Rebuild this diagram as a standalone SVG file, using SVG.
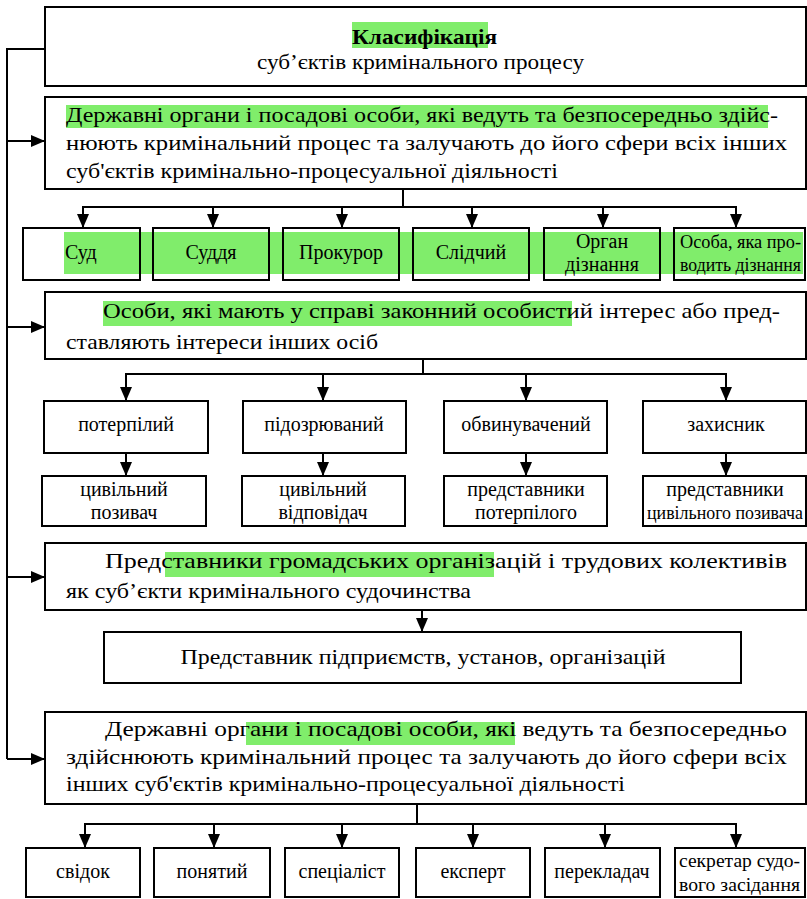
<svg xmlns="http://www.w3.org/2000/svg" width="807" height="899" viewBox="0 0 807 899">
<style>
.box{fill:none;stroke:#000;stroke-width:2}
.t{fill:#000;font-size:22px}
.s{font-size:20px}
.xs{font-size:18px}
.m{text-anchor:middle}
.b{font-weight:bold}
.hl{fill:#80ED6B}
.c{fill:none;stroke:#000;stroke-width:2}
</style>
<defs>
<marker id="ah" viewBox="0 0 14 12" refX="14" refY="6" markerWidth="14" markerHeight="12" markerUnits="userSpaceOnUse" orient="auto"><path d="M0,0 L14,6 L0,12 z" fill="#000"/></marker>
</defs>
<rect width="807" height="899" fill="#fff"/>
<g id="highlights">
<rect class="hl" x="352" y="22" width="136" height="26"/>
<rect class="hl" x="66" y="105" width="702" height="23"/>
<rect class="hl" x="64" y="232" width="739" height="42"/>
<rect class="hl" x="103" y="301" width="469" height="25"/>
<rect class="hl" x="165" y="552" width="329" height="25"/>
<rect class="hl" x="246" y="722" width="269" height="23"/>
</g>
<g id="connectors">
<polyline class="c" points="45,49 7,49 7,759"/>
<line class="c" x1="7" y1="141" x2="45" y2="141" marker-end="url(#ah)"/>
<line class="c" x1="7" y1="327" x2="45" y2="327" marker-end="url(#ah)"/>
<line class="c" x1="7" y1="577" x2="45" y2="577" marker-end="url(#ah)"/>
<line class="c" x1="7" y1="759" x2="45" y2="759" marker-end="url(#ah)"/>
<line class="c" x1="403" y1="189" x2="403" y2="207"/>
<line class="c" x1="82" y1="207" x2="737" y2="207"/>
<line class="c" x1="83" y1="207" x2="83" y2="228" marker-end="url(#ah)"/>
<line class="c" x1="213" y1="207" x2="213" y2="228" marker-end="url(#ah)"/>
<line class="c" x1="342" y1="207" x2="342" y2="228" marker-end="url(#ah)"/>
<line class="c" x1="472" y1="207" x2="472" y2="228" marker-end="url(#ah)"/>
<line class="c" x1="603" y1="207" x2="603" y2="228" marker-end="url(#ah)"/>
<line class="c" x1="736" y1="207" x2="736" y2="228" marker-end="url(#ah)"/>
<line class="c" x1="423" y1="359" x2="423" y2="374"/>
<line class="c" x1="125" y1="374" x2="727" y2="374"/>
<line class="c" x1="126" y1="374" x2="126" y2="401" marker-end="url(#ah)"/>
<line class="c" x1="323" y1="374" x2="323" y2="401" marker-end="url(#ah)"/>
<line class="c" x1="526" y1="374" x2="526" y2="401" marker-end="url(#ah)"/>
<line class="c" x1="726" y1="374" x2="726" y2="401" marker-end="url(#ah)"/>
<line class="c" x1="126" y1="453" x2="126" y2="476" marker-end="url(#ah)"/>
<line class="c" x1="323" y1="453" x2="323" y2="476" marker-end="url(#ah)"/>
<line class="c" x1="526" y1="453" x2="526" y2="476" marker-end="url(#ah)"/>
<line class="c" x1="726" y1="453" x2="726" y2="476" marker-end="url(#ah)"/>
<line class="c" x1="422" y1="610" x2="422" y2="632" marker-end="url(#ah)"/>
<line class="c" x1="417" y1="804" x2="417" y2="824"/>
<line class="c" x1="84" y1="824" x2="737" y2="824"/>
<line class="c" x1="85" y1="824" x2="85" y2="848" marker-end="url(#ah)"/>
<line class="c" x1="214" y1="824" x2="214" y2="848" marker-end="url(#ah)"/>
<line class="c" x1="342" y1="824" x2="342" y2="848" marker-end="url(#ah)"/>
<line class="c" x1="473" y1="824" x2="473" y2="848" marker-end="url(#ah)"/>
<line class="c" x1="605" y1="824" x2="605" y2="848" marker-end="url(#ah)"/>
<line class="c" x1="736" y1="824" x2="736" y2="848" marker-end="url(#ah)"/>
</g>
<g id="title">
<rect class="box" x="45" y="7" width="761" height="79"/>
<text font-family="Liberation Serif, serif" class="t b" x="352" y="44" textLength="145" lengthAdjust="spacingAndGlyphs">Класифікація</text>
<text font-family="Liberation Serif, serif" class="t" x="257" y="69" textLength="327" lengthAdjust="spacingAndGlyphs">суб’єктів кримінального процесу</text>
</g>
<g id="state-organs">
<rect class="box" x="45" y="97" width="761" height="92"/>
<text font-family="Liberation Serif, serif" class="t" x="66" y="122" textLength="712" lengthAdjust="spacingAndGlyphs">Державні органи і посадові особи, які ведуть та безпосередньо здійс-</text>
<text font-family="Liberation Serif, serif" class="t" x="66" y="150" textLength="721" lengthAdjust="spacingAndGlyphs">нюють кримінальний процес та залучають до його сфери всіх інших</text>
<text font-family="Liberation Serif, serif" class="t" x="66" y="178" textLength="492" lengthAdjust="spacingAndGlyphs">суб'єктів кримінально-процесуальної діяльності</text>
</g>
<g id="sud"><rect class="box" x="23" y="228" width="117" height="52"/><text font-family="Liberation Serif, serif" class="t s" x="65" y="259">Суд</text></g>
<g id="suddia"><rect class="box" x="153" y="228" width="116" height="52"/><text font-family="Liberation Serif, serif" class="t s m" x="211" y="259">Суддя</text></g>
<g id="prokuror"><rect class="box" x="283" y="228" width="116" height="52"/><text font-family="Liberation Serif, serif" class="t s m" x="341" y="259">Прокурор</text></g>
<g id="slidchyi"><rect class="box" x="413" y="228" width="116" height="52"/><text font-family="Liberation Serif, serif" class="t s m" x="471" y="259">Слідчий</text></g>
<g id="organ-diznannia"><rect class="box" x="544" y="228" width="116" height="52"/><text font-family="Liberation Serif, serif" class="t s m" x="602" y="248">Орган</text><text font-family="Liberation Serif, serif" class="t s m" x="602" y="271">дізнання</text></g>
<g id="osoba-diznannia"><rect class="box" x="674" y="228" width="131" height="52"/><text font-family="Liberation Serif, serif" class="t xs" x="680" y="248" textLength="121" lengthAdjust="spacingAndGlyphs">Особа, яка про-</text><text font-family="Liberation Serif, serif" class="t xs" x="680" y="271" textLength="121" lengthAdjust="spacingAndGlyphs">водить дізнання</text></g>
<g id="interested-persons">
<rect class="box" x="45" y="292" width="761" height="67"/>
<text font-family="Liberation Serif, serif" class="t" x="103" y="318" textLength="677" lengthAdjust="spacingAndGlyphs">Особи, які мають у справі законний особистий інтерес або пред-</text>
<text font-family="Liberation Serif, serif" class="t" x="66" y="349" textLength="312" lengthAdjust="spacingAndGlyphs">ставляють інтереси інших осіб</text>
</g>
<g id="poterpilyi"><rect class="box" x="44" y="401" width="164" height="52"/><text font-family="Liberation Serif, serif" class="t s m" x="126" y="431">потерпілий</text></g>
<g id="pidozriuvanyi"><rect class="box" x="243" y="401" width="163" height="52"/><text font-family="Liberation Serif, serif" class="t s m" x="324" y="431">підозрюваний</text></g>
<g id="obvynuvachenyi"><rect class="box" x="444" y="401" width="163" height="52"/><text font-family="Liberation Serif, serif" class="t s m" x="526" y="431">обвинувачений</text></g>
<g id="zakhysnyk"><rect class="box" x="643" y="401" width="163" height="52"/><text font-family="Liberation Serif, serif" class="t s m" x="726" y="431">захисник</text></g>
<g id="tsyv-pozyvach"><rect class="box" x="42" y="476" width="164" height="50"/><text font-family="Liberation Serif, serif" class="t s m" x="124" y="496">цивільний</text><text font-family="Liberation Serif, serif" class="t s m" x="124" y="519">позивач</text></g>
<g id="tsyv-vidpovidach"><rect class="box" x="242" y="476" width="163" height="50"/><text font-family="Liberation Serif, serif" class="t s m" x="323" y="496">цивільний</text><text font-family="Liberation Serif, serif" class="t s m" x="323" y="519">відповідач</text></g>
<g id="predst-poterpiloho"><rect class="box" x="444" y="476" width="163" height="50"/><text font-family="Liberation Serif, serif" class="t s m" x="526" y="496">представники</text><text font-family="Liberation Serif, serif" class="t s m" x="526" y="519">потерпілого</text></g>
<g id="predst-tsyv-pozyvacha"><rect class="box" x="643" y="476" width="163" height="50"/><text font-family="Liberation Serif, serif" class="t s m" x="725" y="496">представники</text><text font-family="Liberation Serif, serif" class="t xs m" x="725" y="519" textLength="156" lengthAdjust="spacingAndGlyphs">цивільного позивача</text></g>
<g id="public-orgs">
<rect class="box" x="45" y="543" width="761" height="67"/>
<text font-family="Liberation Serif, serif" class="t" x="105" y="568" textLength="682" lengthAdjust="spacingAndGlyphs">Представники громадських організацій і трудових колективів</text>
<text font-family="Liberation Serif, serif" class="t" x="66" y="598" textLength="405" lengthAdjust="spacingAndGlyphs">як суб’єкти кримінального судочинства</text>
</g>
<g id="enterprise-rep">
<rect class="box" x="104" y="632" width="637" height="51"/>
<text font-family="Liberation Serif, serif" class="t m" x="423" y="664" textLength="485" lengthAdjust="spacingAndGlyphs">Представник підприємств, установ, організацій</text>
</g>
<g id="state-organs-2">
<rect class="box" x="45" y="712" width="761" height="92"/>
<text font-family="Liberation Serif, serif" class="t" x="105" y="736" textLength="682" lengthAdjust="spacingAndGlyphs">Державні органи і посадові особи, які ведуть та безпосередньо</text>
<text font-family="Liberation Serif, serif" class="t" x="66" y="764" textLength="721" lengthAdjust="spacingAndGlyphs">здійснюють кримінальний процес та залучають до його сфери всіх</text>
<text font-family="Liberation Serif, serif" class="t" x="66" y="791" textLength="559" lengthAdjust="spacingAndGlyphs">інших суб'єктів кримінально-процесуальної діяльності</text>
</g>
<g id="svidok"><rect class="box" x="26" y="848" width="114" height="49"/><text font-family="Liberation Serif, serif" class="t s m" x="83" y="878">свідок</text></g>
<g id="poniatyi"><rect class="box" x="154" y="848" width="116" height="49"/><text font-family="Liberation Serif, serif" class="t s m" x="212" y="878">понятий</text></g>
<g id="spetsialist"><rect class="box" x="285" y="848" width="114" height="49"/><text font-family="Liberation Serif, serif" class="t s m" x="342" y="878">спеціаліст</text></g>
<g id="ekspert"><rect class="box" x="416" y="848" width="114" height="49"/><text font-family="Liberation Serif, serif" class="t s m" x="473" y="878">експерт</text></g>
<g id="perekladach"><rect class="box" x="545" y="848" width="115" height="49"/><text font-family="Liberation Serif, serif" class="t s m" x="602" y="878">перекладач</text></g>
<g id="sekretar"><rect class="box" x="675" y="848" width="130" height="49"/><text font-family="Liberation Serif, serif" class="t xs" x="679" y="867" textLength="121" lengthAdjust="spacingAndGlyphs">секретар судо-</text><text font-family="Liberation Serif, serif" class="t xs" x="679" y="891" textLength="121" lengthAdjust="spacingAndGlyphs">вого засідання</text></g>
</svg>
